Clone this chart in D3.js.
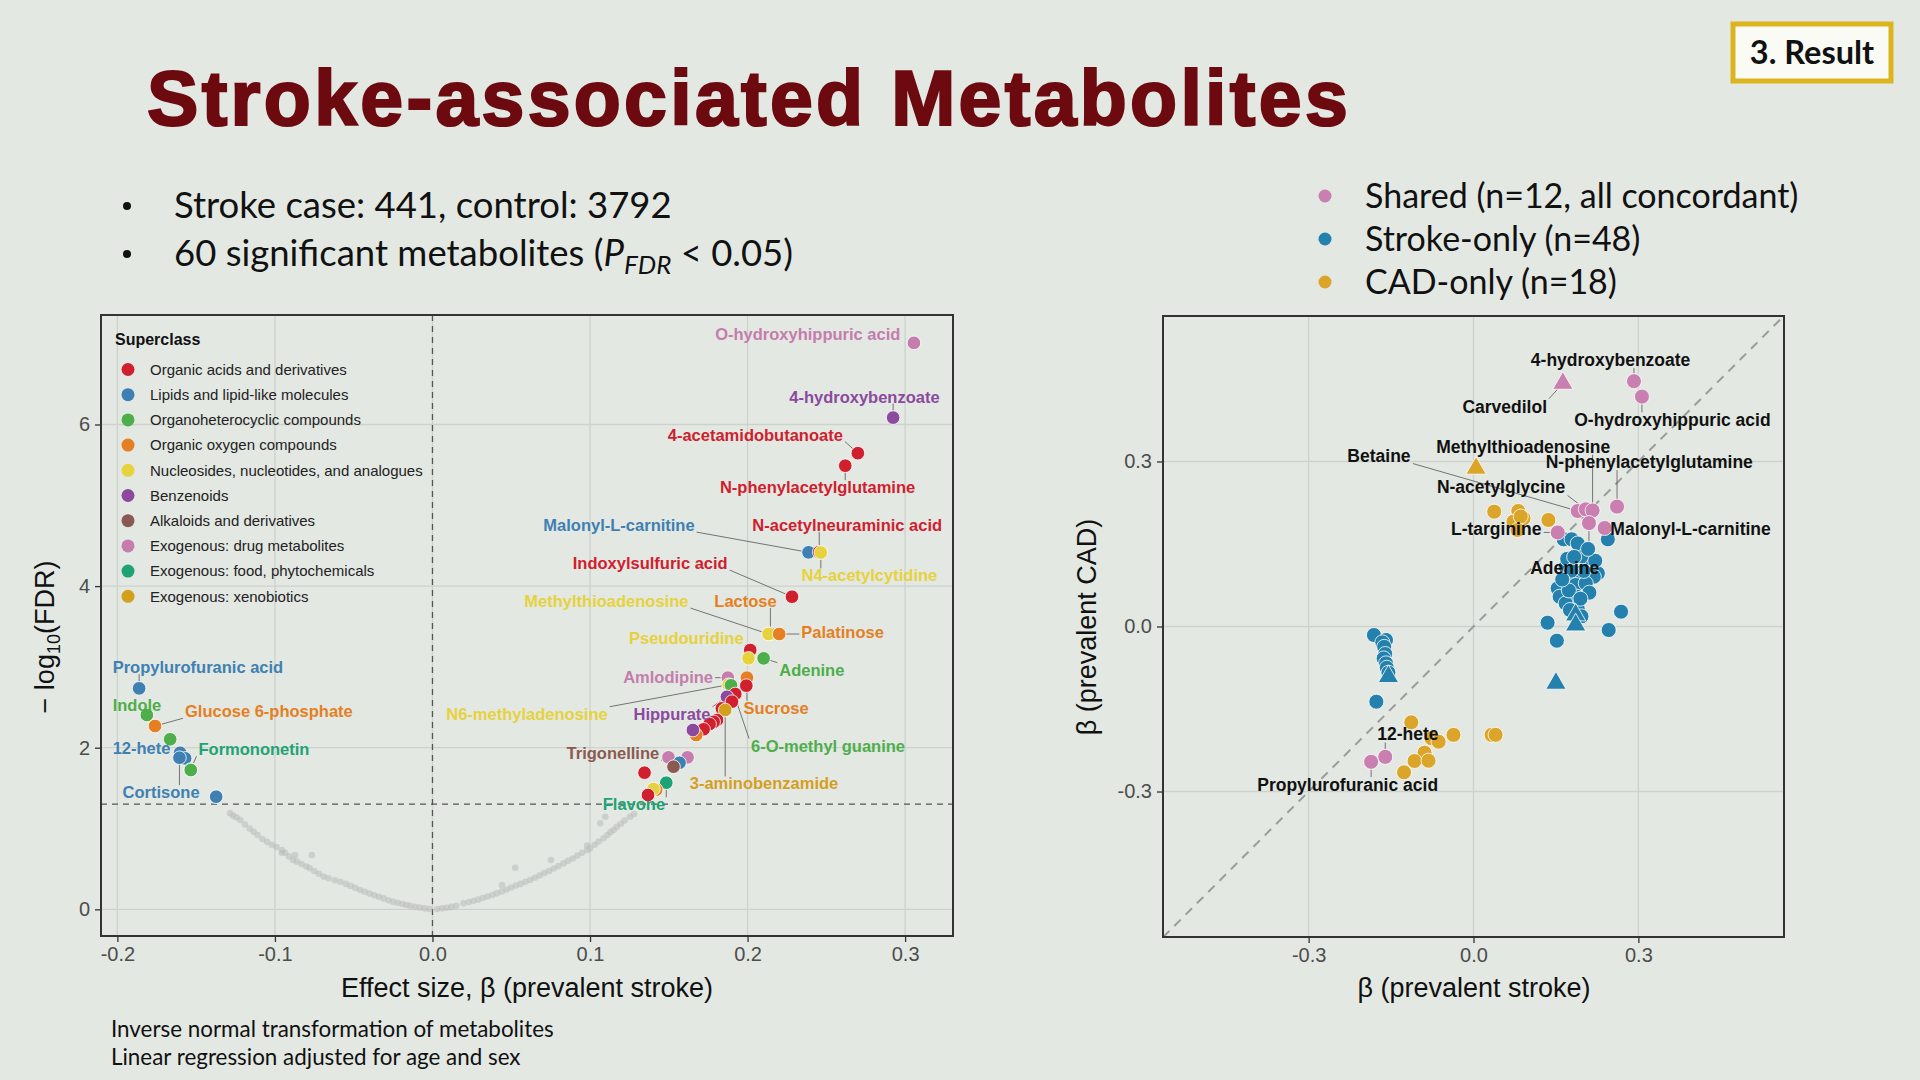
<!DOCTYPE html>
<html>
<head>
<meta charset="utf-8">
<script src="https://cdn.jsdelivr.net/npm/d3@7"></script>
<style>
  body { margin: 0; background: #e3e8e3; }
  svg { display: block; }
</style>
</head>
<body>
<script>
// ---- data ----

const superclasses = [
  "Organic acids and derivatives",
  "Lipids and lipid-like molecules",
  "Organoheterocyclic compounds",
  "Organic oxygen compounds",
  "Nucleosides, nucleotides, and analogues",
  "Benzenoids",
  "Alkaloids and derivatives",
  "Exogenous: drug metabolites",
  "Exogenous: food, phytochemicals",
  "Exogenous: xenobiotics"
];
const superclassColors = ["#d0202e", "#3f80b2", "#4eae4b", "#e57f22", "#e6d23c",
  "#8b4a9e", "#8a5a50", "#c57dad", "#1ea374", "#d59f1e"];

// significant metabolites: [name, beta (stroke), -log10(FDR), superclass index]
const sigMetabolites = [
  ["O-hydroxyhippuric acid", 0.3056, 7.01, 7],
  ["4-hydroxybenzoate", 0.2924, 6.085, 5],
  ["4-acetamidobutanoate", 0.270, 5.645, 0],
  ["N-phenylacetylglutamine", 0.262, 5.49, 0],
  ["Malonyl-L-carnitine", 0.2387, 4.418, 1],
  ["N-acetylneuraminic acid", 0.2455, 4.42, 0],
  ["N4-acetylcytidine", 0.2465, 4.415, 4],
  ["Indoxylsulfuric acid", 0.2282, 3.869, 0],
  ["Lactose", 0.2145, 3.41, 3],
  ["Methylthioadenosine", 0.2133, 3.407, 4],
  ["Palatinose", 0.2201, 3.407, 3],
  ["", 0.2017, 3.209, 0],
  ["Pseudouridine", 0.2006, 3.106, 4],
  ["Adenine", 0.2102, 3.106, 2],
  ["Amlodipine", 0.1875, 2.867, 7],
  ["Sucrose", 0.1996, 2.867, 3],
  ["N6-methyladenosine", 0.188, 2.78, 4],
  ["6-O-methyl guanine", 0.1895, 2.772, 2],
  ["", 0.1992, 2.768, 0],
  ["", 0.1922, 2.665, 0],
  ["Hippurate", 0.1869, 2.63, 5],
  ["", 0.1901, 2.57, 0],
  ["", 0.1837, 2.487, 0],
  ["3-aminobenzamide", 0.1858, 2.467, 9],
  ["", 0.1806, 2.343, 0],
  ["", 0.1785, 2.32, 0],
  ["", 0.1759, 2.293, 0],
  ["", 0.1721, 2.228, 0],
  ["", 0.1674, 2.157, 3],
  ["", 0.1653, 2.219, 5],
  ["", 0.1498, 1.881, 7],
  ["", 0.1619, 1.881, 7],
  ["", 0.1568, 1.814, 1],
  ["Trigonelline", 0.153, 1.765, 6],
  ["", 0.1346, 1.691, 0],
  ["Flavone", 0.1484, 1.567, 8],
  ["", 0.142, 1.48, 3],
  ["", 0.1403, 1.49, 4],
  ["", 0.1368, 1.415, 0],
  ["Propylurofuranic acid", -0.1862, 2.735, 1],
  ["Indole", -0.1813, 2.405, 2],
  ["Glucose 6-phosphate", -0.1761, 2.269, 3],
  ["", -0.1665, 2.104, 2],
  ["12-hete", -0.1602, 1.938, 1],
  ["", -0.157, 1.868, 1],
  ["Cortisone", -0.1606, 1.876, 1],
  ["Formononetin", -0.1535, 1.73, 8],
  ["", -0.1534, 1.724, 2],
  ["", -0.1373, 1.394, 1]
];

// non-significant metabolites: [beta, -log10(FDR)]
const nsMetabolites = [
  [-0.1285, 1.19], [-0.1265, 1.16], [-0.1245, 1.14], [-0.122, 1.105], [-0.119, 1.05],
  [-0.116, 1.0], [-0.1135, 0.96], [-0.111, 0.92], [-0.108, 0.87], [-0.105, 0.835],
  [-0.102, 0.8], [-0.099, 0.77], [-0.0955, 0.735], [-0.0935, 0.7], [-0.091, 0.655],
  [-0.0885, 0.61], [-0.086, 0.59], [-0.083, 0.56], [-0.08, 0.53], [-0.078, 0.51],
  [-0.075, 0.475], [-0.072, 0.44], [-0.069, 0.405], [-0.066, 0.385], [-0.062, 0.36],
  [-0.0585, 0.342], [-0.055, 0.315], [-0.052, 0.29], [-0.049, 0.265], [-0.046, 0.24],
  [-0.043, 0.218], [-0.04, 0.195], [-0.037, 0.175], [-0.034, 0.155], [-0.031, 0.135],
  [-0.028, 0.112], [-0.025, 0.095], [-0.022, 0.08], [-0.019, 0.066], [-0.0165, 0.054],
  [-0.014, 0.043], [-0.011, 0.032], [-0.008, 0.022], [-0.005, 0.012], [-0.002, 0.004],
  [-0.0872, 0.672], [-0.0766, 0.672], [-0.0956, 0.70],
  [0.003, 0.005], [0.006, 0.012], [0.009, 0.02], [0.012, 0.03], [0.015, 0.045],
  [0.0197, 0.074], [0.023, 0.09], [0.026, 0.105], [0.029, 0.12], [0.032, 0.14],
  [0.035, 0.158], [0.038, 0.178], [0.0409, 0.198], [0.044, 0.22], [0.047, 0.245],
  [0.05, 0.27], [0.053, 0.295], [0.056, 0.315], [0.059, 0.34], [0.062, 0.363],
  [0.065, 0.39], [0.068, 0.42], [0.071, 0.45], [0.074, 0.475], [0.077, 0.505],
  [0.08, 0.535], [0.0832, 0.569], [0.086, 0.6], [0.089, 0.63], [0.092, 0.665],
  [0.095, 0.7], [0.0982, 0.735], [0.1001, 0.755], [0.103, 0.8], [0.1055, 0.84],
  [0.1086, 0.879], [0.111, 0.92], [0.113, 0.955], [0.115, 0.981], [0.117, 1.02],
  [0.1195, 1.06], [0.122, 1.1], [0.1255, 1.146], [0.128, 1.18],
  [0.0441, 0.30], [0.0525, 0.515], [0.0752, 0.61], [0.0982, 0.79], [0.1065, 1.064], [0.1097, 1.146]
];

// label placement (as ggrepel left them): [name, beta, -log10(FDR), anchor]
const volcanoLabels = [
  ["O-hydroxyhippuric acid", 0.297, 7.115, "end"],
  ["4-hydroxybenzoate", 0.3219, 6.342, "end"],
  ["4-acetamidobutanoate", 0.2605, 5.873, "end"],
  ["N-phenylacetylglutamine", 0.3064, 5.221, "end"],
  ["Malonyl-L-carnitine", 0.1664, 4.752, "end"],
  ["N-acetylneuraminic acid", 0.3235, 4.752, "end"],
  ["N4-acetylcytidine", 0.3204, 4.13, "end"],
  ["Indoxylsulfuric acid", 0.1874, 4.282, "end"],
  ["Methylthioadenosine", 0.1625, 3.812, "end"],
  ["Lactose", 0.2185, 3.812, "end"],
  ["Palatinose", 0.2341, 3.433, "start"],
  ["Pseudouridine", 0.1975, 3.358, "end"],
  ["Adenine", 0.2201, 2.964, "start"],
  ["Amlodipine", 0.1781, 2.873, "end"],
  ["N6-methyladenosine", 0.1112, 2.418, "end"],
  ["Hippurate", 0.1765, 2.418, "end"],
  ["Sucrose", 0.1975, 2.494, "start"],
  ["6-O-methyl guanine", 0.2022, 2.024, "start"],
  ["Trigonelline", 0.1439, 1.933, "end"],
  ["3-aminobenzamide", 0.1633, 1.555, "start"],
  ["Flavone", 0.1081, 1.297, "start"],
  ["Propylurofuranic acid", -0.203, 2.994, "start"],
  ["Indole", -0.203, 2.524, "start"],
  ["Glucose 6-phosphate", -0.1571, 2.448, "start"],
  ["12-hete", -0.203, 1.994, "start"],
  ["Formononetin", -0.1485, 1.979, "start"],
  ["Cortisone", -0.1967, 1.448, "start"]
];

const volcanoXTicks = [-0.2, -0.1, 0, 0.1, 0.2, 0.3];
const volcanoYTicks = [0, 2, 4, 6];

// comparison plot
const groupNames = ["Shared (n=12, all concordant)", "Stroke-only (n=48)", "CAD-only (n=18)"];
const groupColors = ["#c97fb0", "#2480ac", "#dba52a"];

// [name, beta stroke, beta CAD, triangle?]
const sharedMetabolites = [
  ["Carvedilol", 0.1626, 0.442, true],
  ["4-hydroxybenzoate", 0.292, 0.446, false],
  ["O-hydroxyhippuric acid", 0.3065, 0.418, false],
  ["N-phenylacetylglutamine", 0.2612, 0.218, false],
  ["Betaine", 0.1896, 0.21, false],
  ["N-acetylglycine", 0.2043, 0.213, false],
  ["Methylthioadenosine", 0.2167, 0.211, false],
  ["Adenine", 0.2101, 0.188, false],
  ["Malonyl-L-carnitine", 0.2387, 0.179, false],
  ["L-targinine", 0.1532, 0.171, false],
  ["12-hete", -0.1606, -0.237, false],
  ["Propylurofuranic acid", -0.1863, -0.246, false]
];
const strokeOnlyMetabolites = [
  [0.2445, 0.1585, false], [0.164, 0.1585, false], [0.1786, 0.1585, false], [0.1896, 0.151, false],
  [0.1992, 0.127, false], [0.1677, 0.1087, false], [0.2152, 0.1087, false], [0.2263, 0.0967, false],
  [0.175, 0.0906, false], [0.197, 0.0906, false], [0.2189, 0.0906, false], [0.1532, 0.0694, false],
  [0.1859, 0.0755, false], [0.2043, 0.0785, false], [0.1568, 0.0542, false], [0.1881, 0.0542, false],
  [0.1677, 0.0421, false], [0.1896, 0.033, false], [0.1859, 0.0209, true], [0.1859, 0.0027, true],
  [0.2685, 0.0269, false], [0.1348, 0.0069, false], [0.246, -0.0064, false], [0.1517, -0.0258, false],
  [0.15, -0.1033, true], [0.1705, 0.123, false], [0.2005, 0.101, false], [0.2108, 0.0615, false],
  [0.1735, 0.0655, false], [0.1945, 0.0505, false], [0.178, 0.1015, false], [0.2215, 0.1195, false],
  [0.1615, 0.0855, false], [0.2085, 0.141, false], [0.1832, 0.1265, false], [0.1755, 0.03, false],
  [0.1965, 0.0185, false],
  [-0.1812, -0.0155, false], [-0.1592, -0.0245, false], [-0.1659, -0.0288, false], [-0.1625, -0.037, false],
  [-0.1606, -0.05, false], [-0.1635, -0.058, false], [-0.1592, -0.067, false], [-0.1578, -0.075, false],
  [-0.1548, -0.084, false], [-0.1548, -0.0912, true], [-0.1768, -0.1367, false]
];
const cadOnlyMetabolites = [
  [0.0047, 0.2876, true], [0.0377, 0.2088, false], [0.0815, 0.21, false], [0.091, 0.1967, false],
  [0.0728, 0.1906, false], [0.086, 0.2, false], [0.08, 0.1755, false], [0.1363, 0.1936, false],
  [-0.1132, -0.1742, false], [-0.0364, -0.197, false], [0.0329, -0.197, false], [0.0402, -0.197, false],
  [-0.0766, -0.203, false], [-0.0635, -0.2094, false], [-0.0891, -0.2294, false], [-0.1073, -0.2445, false],
  [-0.0819, -0.244, false], [-0.1264, -0.2651, false]
];

// label centres: [name, beta stroke, beta CAD]
const compareLabels = [
  ["4-hydroxybenzoate", 0.2495, 0.4845],
  ["Carvedilol", 0.0568, 0.3998],
  ["O-hydroxyhippuric acid", 0.362, 0.375],
  ["Betaine", -0.172, 0.311],
  ["Methylthioadenosine", 0.0904, 0.327],
  ["N-phenylacetylglutamine", 0.3199, 0.299],
  ["N-acetylglycine", 0.0502, 0.253],
  ["L-targinine", 0.0413, 0.177],
  ["Malonyl-L-carnitine", 0.395, 0.177],
  ["Adenine", 0.166, 0.106],
  ["12-hete", -0.1193, -0.196],
  ["Propylurofuranic acid", -0.229, -0.288]
];
const compareTicks = [-0.3, 0, 0.3];

// ---- drawing ----

const plotFont = "'Liberation Sans', Arial, sans-serif";
const slideFont = "Lato, 'Open Sans', sans-serif";
const gridColor = "#cdd2cd";

const svg = d3.select("body").append("svg")
  .attr("width", 1920)
  .attr("height", 1080)
  .attr("viewBox", [0, 0, 1920, 1080]);

svg.append("rect").attr("width", 1920).attr("height", 1080).attr("fill", "#e3e8e3");

// slide title and text
svg.append("text")
  .attr("x", 147).attr("y", 125)
  .attr("font-family", plotFont).attr("font-weight", "bold")
  .attr("font-size", 77).attr("letter-spacing", 3.3)
  .attr("fill", "#6c0a10").attr("stroke", "#6c0a10").attr("stroke-width", 2.2)
  .text("Stroke-associated Metabolites");

const result = svg.append("g");
result.append("rect")
  .attr("x", 1733).attr("y", 24).attr("width", 158).attr("height", 57)
  .attr("fill", "#fbfbf6").attr("stroke", "#dcb51e").attr("stroke-width", 5);
result.append("text")
  .attr("x", 1812).attr("y", 53).attr("dy", "0.35em")
  .attr("text-anchor", "middle")
  .attr("font-family", slideFont).attr("font-weight", "bold").attr("font-size", 32.5)
  .attr("fill", "#111").text("3. Result");

const bullets = svg.append("g").attr("font-family", slideFont).attr("font-size", 36.5).attr("fill", "#111");
bullets.append("circle").attr("cx", 127).attr("cy", 206).attr("r", 4).attr("fill", "#111");
bullets.append("text").attr("x", 174).attr("y", 218).text("Stroke case: 441, control: 3792");
bullets.append("circle").attr("cx", 127).attr("cy", 254).attr("r", 4).attr("fill", "#111");
const b2 = bullets.append("text").attr("x", 174).attr("y", 266);
b2.append("tspan").text("60 significant metabolites (");
b2.append("tspan").attr("font-style", "italic").text("P");
b2.append("tspan").attr("font-style", "italic").attr("font-size", 26).attr("dy", 8).text("FDR");
b2.append("tspan").attr("dy", -8).text(" < 0.05)");

const groupLegend = svg.append("g").attr("font-family", slideFont).attr("font-size", 34).attr("fill", "#111");
groupNames.forEach((name, i) => {
  const cy = 196 + i * 43;
  groupLegend.append("circle").attr("cx", 1325).attr("cy", cy).attr("r", 6.5).attr("fill", groupColors[i]);
  groupLegend.append("text").attr("x", 1365).attr("y", cy).attr("dy", "0.35em").text(name);
});

const notes = svg.append("g").attr("font-family", slideFont).attr("font-size", 22.4).attr("fill", "#111");
notes.append("text").attr("x", 111).attr("y", 1037).text("Inverse normal transformation of metabolites");
notes.append("text").attr("x", 111).attr("y", 1065).text("Linear regression adjusted for age and sex");

function styleAxis(g) {
  g.select(".domain").remove();
  g.selectAll(".tick line").attr("stroke", "#333").attr("stroke-width", 1.3);
  g.selectAll(".tick text")
    .attr("fill", "#4d4d4d")
    .attr("font-size", 20)
    .attr("font-family", plotFont);
}

// draws a repel-style segment from the label box to the point
function leader(g, textNode, px, py, r) {
  const b = textNode.getBBox();
  const pad = 2;
  const cx = Math.max(b.x - pad, Math.min(px, b.x + b.width + pad));
  const cy = Math.max(b.y + 2, Math.min(py, b.y + b.height - 2));
  const dx = px - cx, dy = py - cy;
  const len = Math.hypot(dx, dy);
  if (len < r + 5) return;
  g.append("line")
    .attr("x1", cx).attr("y1", cy)
    .attr("x2", px - dx / len * r).attr("y2", py - dy / len * r)
    .attr("stroke", "#666").attr("stroke-width", 0.9);
}

// ---- volcano plot ----
const L = {left: 101, right: 953, top: 315, bottom: 936};
const xL = d3.scaleLinear([-0.2104, 0.3304], [L.left, L.right]);
const yL = d3.scaleLinear([-0.33, 7.355], [L.bottom, L.top]);

const volcano = svg.append("g");

volcano.append("g")
  .selectAll("line").data(volcanoXTicks).join("line")
  .attr("x1", d => xL(d)).attr("x2", d => xL(d))
  .attr("y1", L.top).attr("y2", L.bottom)
  .attr("stroke", gridColor).attr("stroke-width", 1.3);
volcano.append("g")
  .selectAll("line").data(volcanoYTicks).join("line")
  .attr("y1", d => yL(d)).attr("y2", d => yL(d))
  .attr("x1", L.left).attr("x2", L.right)
  .attr("stroke", gridColor).attr("stroke-width", 1.3);

volcano.append("line")
  .attr("x1", L.left).attr("x2", L.right)
  .attr("y1", yL(-Math.log10(0.05))).attr("y2", yL(-Math.log10(0.05)))
  .attr("stroke", "#555").attr("stroke-width", 1.3).attr("stroke-dasharray", "6,5");
volcano.append("line")
  .attr("x1", xL(0)).attr("x2", xL(0))
  .attr("y1", L.top).attr("y2", L.bottom)
  .attr("stroke", "#555").attr("stroke-width", 1.3).attr("stroke-dasharray", "6,5");

volcano.append("g")
  .selectAll("circle").data(nsMetabolites).join("circle")
  .attr("cx", d => xL(d[0])).attr("cy", d => yL(d[1]))
  .attr("r", 3.3).attr("fill", "#b9bcb9").attr("fill-opacity", 0.55);

const lineLayer = volcano.append("g");

volcano.append("g")
  .selectAll("circle").data(sigMetabolites).join("circle")
  .attr("cx", d => xL(d[1])).attr("cy", d => yL(d[2]))
  .attr("r", 6.8)
  .attr("fill", d => superclassColors[d[3]])
  .attr("stroke", "#fff").attr("stroke-width", 0.8);

const labelLayer = volcano.append("g")
  .attr("font-family", plotFont).attr("font-weight", "bold").attr("font-size", 16.5);
volcanoLabels.forEach(([name, lx, ly, anchor]) => {
  const p = sigMetabolites.find(d => d[0] === name);
  const t = labelLayer.append("text")
    .attr("x", xL(lx)).attr("y", yL(ly)).attr("dy", "0.35em")
    .attr("text-anchor", anchor)
    .attr("fill", superclassColors[p[3]])
    .text(name);
  leader(lineLayer, t.node(), xL(p[1]), yL(p[2]), 6.8);
});

// superclass legend
const legend = volcano.append("g").attr("font-family", plotFont);
legend.append("text")
  .attr("x", 115).attr("y", 345)
  .attr("font-weight", "bold").attr("font-size", 16).attr("fill", "#111")
  .text("Superclass");
superclasses.forEach((name, i) => {
  const cy = 369.5 + i * 25.2;
  legend.append("circle").attr("cx", 128).attr("cy", cy).attr("r", 6.5).attr("fill", superclassColors[i]);
  legend.append("text")
    .attr("x", 150).attr("y", cy).attr("dy", "0.35em")
    .attr("font-size", 15).attr("fill", "#222")
    .text(name);
});

volcano.append("rect")
  .attr("x", L.left).attr("y", L.top)
  .attr("width", L.right - L.left).attr("height", L.bottom - L.top)
  .attr("fill", "none").attr("stroke", "#333").attr("stroke-width", 2);

volcano.append("g")
  .attr("transform", `translate(0,${L.bottom})`)
  .call(d3.axisBottom(xL).tickValues(volcanoXTicks).tickFormat(d => d.toFixed(1)).tickSize(6).tickPadding(5))
  .call(styleAxis);
volcano.append("g")
  .attr("transform", `translate(${L.left},0)`)
  .call(d3.axisLeft(yL).tickValues(volcanoYTicks).tickSize(6).tickPadding(5))
  .call(styleAxis);

volcano.append("text")
  .attr("x", 527).attr("y", 988).attr("dy", "0.35em")
  .attr("text-anchor", "middle")
  .attr("font-family", plotFont).attr("font-size", 27).attr("fill", "#111")
  .text("Effect size, β (prevalent stroke)");

const yTitle = volcano.append("text")
  .attr("transform", "translate(45,637) rotate(-90)")
  .attr("dy", "0.35em")
  .attr("text-anchor", "middle")
  .attr("font-family", plotFont).attr("font-size", 27).attr("fill", "#111");
yTitle.append("tspan").text("− log");
yTitle.append("tspan").attr("font-size", 18).attr("dy", 6).text("10");
yTitle.append("tspan").attr("dy", -6).text("(FDR)");

// ---- stroke vs CAD comparison ----
const R = {left: 1163, right: 1784, top: 316, bottom: 937};
const xR = d3.scaleLinear([-0.565, 0.565], [R.left, R.right]);
const yR = d3.scaleLinear([-0.5645, 0.5645], [R.bottom, R.top]);

const compare = svg.append("g");

compare.append("g")
  .selectAll("line").data(compareTicks).join("line")
  .attr("x1", d => xR(d)).attr("x2", d => xR(d))
  .attr("y1", R.top).attr("y2", R.bottom)
  .attr("stroke", gridColor).attr("stroke-width", 1.3);
compare.append("g")
  .selectAll("line").data(compareTicks).join("line")
  .attr("y1", d => yR(d)).attr("y2", d => yR(d))
  .attr("x1", R.left).attr("x2", R.right)
  .attr("stroke", gridColor).attr("stroke-width", 1.3);

const diagDomain = xR.domain();
compare.append("line")
  .attr("x1", xR(diagDomain[0])).attr("y1", yR(diagDomain[0]))
  .attr("x2", xR(diagDomain[1])).attr("y2", yR(diagDomain[1]))
  .attr("stroke", "#9a9d9a").attr("stroke-width", 2).attr("stroke-dasharray", "9,7");

const compareLines = compare.append("g");
const triangle = d3.symbol().type(d3.symbolTriangle).size(180);

function drawGroup(rows, color, xi, yi, ti) {
  const g = compare.append("g");
  g.selectAll("circle").data(rows.filter(d => !d[ti])).join("circle")
    .attr("cx", d => xR(d[xi])).attr("cy", d => yR(d[yi]))
    .attr("r", 7.5).attr("fill", color)
    .attr("stroke", "#fff").attr("stroke-width", 0.8);
  g.selectAll("path").data(rows.filter(d => d[ti])).join("path")
    .attr("d", triangle)
    .attr("transform", d => `translate(${xR(d[xi])},${yR(d[yi])})`)
    .attr("fill", color)
    .attr("stroke", "#fff").attr("stroke-width", 0.8);
}
drawGroup(strokeOnlyMetabolites, groupColors[1], 0, 1, 2);
drawGroup(cadOnlyMetabolites, groupColors[2], 0, 1, 2);
drawGroup(sharedMetabolites, groupColors[0], 1, 2, 3);

const compareText = compare.append("g")
  .attr("font-family", plotFont).attr("font-weight", "bold").attr("font-size", 17.5).attr("fill", "#111");
compareLabels.forEach(([name, lx, ly]) => {
  const p = sharedMetabolites.find(d => d[0] === name);
  const t = compareText.append("text")
    .attr("x", xR(lx)).attr("y", yR(ly)).attr("dy", "0.35em")
    .attr("text-anchor", "middle")
    .text(name);
  leader(compareLines, t.node(), xR(p[1]), yR(p[2]), 7.5);
});

compare.append("rect")
  .attr("x", R.left).attr("y", R.top)
  .attr("width", R.right - R.left).attr("height", R.bottom - R.top)
  .attr("fill", "none").attr("stroke", "#333").attr("stroke-width", 2);

compare.append("g")
  .attr("transform", `translate(0,${R.bottom})`)
  .call(d3.axisBottom(xR).tickValues(compareTicks).tickFormat(d => d.toFixed(1)).tickSize(6).tickPadding(5))
  .call(styleAxis);
compare.append("g")
  .attr("transform", `translate(${R.left},0)`)
  .call(d3.axisLeft(yR).tickValues(compareTicks).tickFormat(d => d.toFixed(1)).tickSize(6).tickPadding(5))
  .call(styleAxis);

compare.append("text")
  .attr("x", 1474).attr("y", 988).attr("dy", "0.35em")
  .attr("text-anchor", "middle")
  .attr("font-family", plotFont).attr("font-size", 27).attr("fill", "#111")
  .text("β (prevalent stroke)");
compare.append("text")
  .attr("transform", "translate(1087,627) rotate(-90)")
  .attr("dy", "0.35em")
  .attr("text-anchor", "middle")
  .attr("font-family", plotFont).attr("font-size", 27).attr("fill", "#111")
  .text("β (prevalent CAD)");
</script>
</body>
</html>
